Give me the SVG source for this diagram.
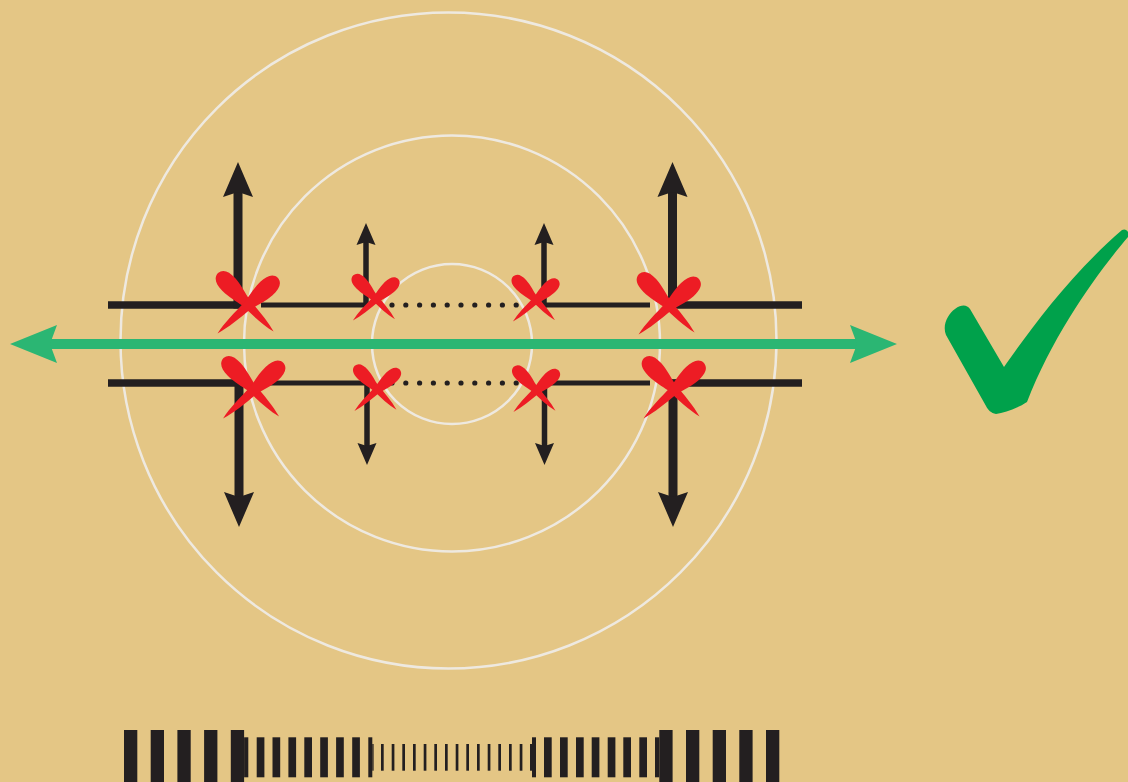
<svg xmlns="http://www.w3.org/2000/svg" xmlns:xlink="http://www.w3.org/1999/xlink" width="1128" height="782" viewBox="0 0 1128 782">
  <style>
    .ring { fill: none; stroke: #EEE9E0; stroke-width: 2.5; }
    .thick { stroke: #231F20; stroke-width: 7.5; fill: none; }
    .thin { stroke: #231F20; stroke-width: 5; fill: none; }
    .shaftBig { stroke: #231F20; stroke-width: 9; fill: none; }
    .shaftSmall { stroke: #231F20; stroke-width: 5.5; fill: none; }
    .ink { fill: #231F20; }
    .dot { fill: #231F20; }
    .cross { fill: #ED1C24; }
    .bar { fill: #231F20; }
  </style>
  <defs>
    <!-- arrowheads, tip at origin, pointing up -->
    <path id="headBig" d="M0,0 L15,35 L0,30 L-15,35 Z"/>
    <path id="headSmall" d="M0,0 L9.5,22 L0,19 L-9.5,22 Z"/>
    <!-- green arrowhead, tip at origin, pointing left -->
    <path id="headGreen" d="M0,0 L47,-19 L40,0 L47,19 Z"/>
    <!-- one brush stroke of a cross: rounded heavy end at origin, tapering to a point along +x -->
    <path id="petal" d="M0,0 C0.5,-5.5 6,-8 16,-7.8 C26,-7.4 33,-5.2 41,-4 C55,-3.3 70,-2.7 82,0 C70,2.9 55,3.5 41,4.2 C33,5.4 26,7.6 16,7.9 C6,8 0.5,5.5 0,0 Z"/>
    <g id="xmark" class="cross">
      <use xlink:href="#petal" href="#petal" transform="translate(-23,-31) rotate(46.5) scale(0.985,1.15)"/>
      <use xlink:href="#petal" href="#petal" transform="translate(37,-26) rotate(137.5) scale(1,1.15)"/>
    </g>
  </defs>

  <rect width="1128" height="782" fill="#E4C685"/>

  <!-- concentric rings -->
  <g id="rings">
    <circle class="ring" cx="448.5" cy="340.5" r="328"/>
    <circle class="ring" cx="452" cy="343.5" r="208"/>
    <circle class="ring" cx="452" cy="344" r="80"/>
  </g>

  <!-- black line work and arrows -->
  <g id="connectors">
    <!-- upper rail -->
    <line class="thick" x1="108" y1="305" x2="242" y2="305"/>
    <line class="thin" x1="261" y1="305" x2="368.5" y2="305"/>
    <line class="thin" x1="541.5" y1="305" x2="650" y2="305"/>
    <line class="thick" x1="668" y1="305" x2="802" y2="305"/>
    <!-- lower rail -->
    <line class="thick" x1="108" y1="383" x2="243" y2="383"/>
    <line class="thin" x1="262" y1="383" x2="369.5" y2="383"/>
    <line class="thin" x1="542" y1="383" x2="650" y2="383"/>
    <line class="thick" x1="669" y1="383" x2="802" y2="383"/>

    <!-- large vertical arrows -->
    <line class="shaftBig" x1="238" y1="308.5" x2="238" y2="190"/>
    <use class="ink" xlink:href="#headBig" href="#headBig" transform="translate(238,162)"/>
    <line class="shaftBig" x1="672.5" y1="308.5" x2="672.5" y2="190"/>
    <use class="ink" xlink:href="#headBig" href="#headBig" transform="translate(672.5,162)"/>
    <line class="shaftBig" x1="239" y1="379.5" x2="239" y2="499"/>
    <use class="ink" xlink:href="#headBig" href="#headBig" transform="translate(239,527) rotate(180)"/>
    <line class="shaftBig" x1="673" y1="379.5" x2="673" y2="499"/>
    <use class="ink" xlink:href="#headBig" href="#headBig" transform="translate(673,527) rotate(180)"/>

    <!-- small vertical arrows -->
    <line class="shaftSmall" x1="366" y1="307.5" x2="366" y2="240"/>
    <use class="ink" xlink:href="#headSmall" href="#headSmall" transform="translate(366,223)"/>
    <line class="shaftSmall" x1="544" y1="307.5" x2="544" y2="240"/>
    <use class="ink" xlink:href="#headSmall" href="#headSmall" transform="translate(544,223)"/>
    <line class="shaftSmall" x1="367" y1="380.5" x2="367" y2="448"/>
    <use class="ink" xlink:href="#headSmall" href="#headSmall" transform="translate(367,465) rotate(180)"/>
    <line class="shaftSmall" x1="544.5" y1="380.5" x2="544.5" y2="448"/>
    <use class="ink" xlink:href="#headSmall" href="#headSmall" transform="translate(544.5,465) rotate(180)"/>

    <!-- dotted links -->
    <g id="dots-upper">
      <circle class="dot" cx="392" cy="305" r="2.6"/>
      <circle class="dot" cx="405.8" cy="305" r="2.6"/>
      <circle class="dot" cx="419.6" cy="305" r="2.6"/>
      <circle class="dot" cx="433.4" cy="305" r="2.6"/>
      <circle class="dot" cx="447.2" cy="305" r="2.6"/>
      <circle class="dot" cx="461" cy="305" r="2.6"/>
      <circle class="dot" cx="474.8" cy="305" r="2.6"/>
      <circle class="dot" cx="488.6" cy="305" r="2.6"/>
      <circle class="dot" cx="502.4" cy="305" r="2.6"/>
      <circle class="dot" cx="516.2" cy="305" r="2.6"/>
    </g>
    <g id="dots-lower">
      <circle class="dot" cx="392" cy="383" r="2.6"/>
      <circle class="dot" cx="405.8" cy="383" r="2.6"/>
      <circle class="dot" cx="419.6" cy="383" r="2.6"/>
      <circle class="dot" cx="433.4" cy="383" r="2.6"/>
      <circle class="dot" cx="447.2" cy="383" r="2.6"/>
      <circle class="dot" cx="461" cy="383" r="2.6"/>
      <circle class="dot" cx="474.8" cy="383" r="2.6"/>
      <circle class="dot" cx="488.6" cy="383" r="2.6"/>
      <circle class="dot" cx="502.4" cy="383" r="2.6"/>
      <circle class="dot" cx="516.2" cy="383" r="2.6"/>
    </g>

    <!-- green double arrow -->
    <g id="through-arrow" fill="#2BB673">
      <line x1="45" y1="344" x2="862" y2="344" stroke="#2BB673" stroke-width="10"/>
      <use xlink:href="#headGreen" href="#headGreen" transform="translate(10,344)"/>
      <use xlink:href="#headGreen" href="#headGreen" transform="translate(897,344) rotate(180)"/>
    </g>
  </g>

  <!-- blocked crossings -->
  <g id="cross-ul"><use xlink:href="#xmark" href="#xmark" transform="translate(241,304)"/></g>
  <g id="cross-ul2"><use xlink:href="#xmark" href="#xmark" transform="translate(370.5,298.5) scale(0.75)"/></g>
  <g id="cross-ur2"><use xlink:href="#xmark" href="#xmark" transform="translate(530.5,299.5) scale(0.75)"/></g>
  <g id="cross-ur"><use xlink:href="#xmark" href="#xmark" transform="translate(662,305)"/></g>
  <g id="cross-ll"><use xlink:href="#xmark" href="#xmark" transform="translate(246.5,389)"/></g>
  <g id="cross-ll2"><use xlink:href="#xmark" href="#xmark" transform="translate(372,389) scale(0.75)"/></g>
  <g id="cross-lr2"><use xlink:href="#xmark" href="#xmark" transform="translate(531,390) scale(0.75)"/></g>
  <g id="cross-lr"><use xlink:href="#xmark" href="#xmark" transform="translate(667,389)"/></g>

  <!-- check mark -->
  <g id="check">
    <path fill="#00A14B" d="M1004,367 C1030,330 1070,275 1122,230 C1126,228 1130,232 1128,237 C1100,270 1055,330 1027,402 C1018,408 1005,413 996,414 C991,413 988,410 986,406 L946,335 C942,325 948,314 955,309 C962,304 967,305 970,309 Z"/>
  </g>

  <!-- graded bar scale -->
  <g id="scale" class="bar">
    <!-- wide bars, left -->
    <rect x="124" y="730" width="13.3" height="52"/>
    <rect x="150.7" y="730" width="13.3" height="52"/>
    <rect x="177.4" y="730" width="13.3" height="52"/>
    <rect x="204.1" y="730" width="13.3" height="52"/>
    <rect x="230.8" y="730" width="13.3" height="52"/>
    <!-- medium bars, left -->
    <rect x="244.1" y="737.3" width="4.2" height="40"/>
    <rect x="256.7" y="737.3" width="7.7" height="40"/>
    <rect x="272.5" y="737.3" width="7.7" height="40"/>
    <rect x="288.4" y="737.3" width="7.7" height="40"/>
    <rect x="304.3" y="737.3" width="7.7" height="40"/>
    <rect x="320.2" y="737.3" width="7.7" height="40"/>
    <rect x="336.1" y="737.3" width="7.7" height="40"/>
    <rect x="352.2" y="737.3" width="7.7" height="40"/>
    <rect x="368.3" y="737.3" width="4" height="40"/>
    <!-- fine bars -->
    <rect x="372.3" y="744" width="1.3" height="26.7"/>
    <rect x="381" y="744" width="2.7" height="26.7"/>
    <rect x="391.7" y="744" width="2.7" height="26.7"/>
    <rect x="402.3" y="744" width="2.7" height="26.7"/>
    <rect x="413" y="744" width="2.7" height="26.7"/>
    <rect x="423.7" y="744" width="2.7" height="26.7"/>
    <rect x="434.3" y="744" width="2.7" height="26.7"/>
    <rect x="445" y="744" width="2.7" height="26.7"/>
    <rect x="455.7" y="744" width="2.7" height="26.7"/>
    <rect x="466.3" y="744" width="2.7" height="26.7"/>
    <rect x="477" y="744" width="2.7" height="26.7"/>
    <rect x="487.7" y="744" width="2.7" height="26.7"/>
    <rect x="498.3" y="744" width="2.7" height="26.7"/>
    <rect x="509" y="744" width="2.7" height="26.7"/>
    <rect x="519.7" y="744" width="2.7" height="26.7"/>
    <rect x="530" y="744" width="2" height="26.7"/>
    <!-- medium bars, right -->
    <rect x="532" y="737.3" width="4" height="40"/>
    <rect x="544" y="737.3" width="7.7" height="40"/>
    <rect x="560" y="737.3" width="7.7" height="40"/>
    <rect x="576" y="737.3" width="7.7" height="40"/>
    <rect x="591.7" y="737.3" width="7.7" height="40"/>
    <rect x="607.7" y="737.3" width="7.7" height="40"/>
    <rect x="623.3" y="737.3" width="7.7" height="40"/>
    <rect x="639.3" y="737.3" width="7.7" height="40"/>
    <rect x="655" y="737.3" width="4.3" height="40"/>
    <!-- wide bars, right -->
    <rect x="659.3" y="730" width="13.3" height="52"/>
    <rect x="686" y="730" width="13.3" height="52"/>
    <rect x="712.7" y="730" width="13.3" height="52"/>
    <rect x="739.3" y="730" width="13.3" height="52"/>
    <rect x="766" y="730" width="13.3" height="52"/>
  </g>
</svg>
